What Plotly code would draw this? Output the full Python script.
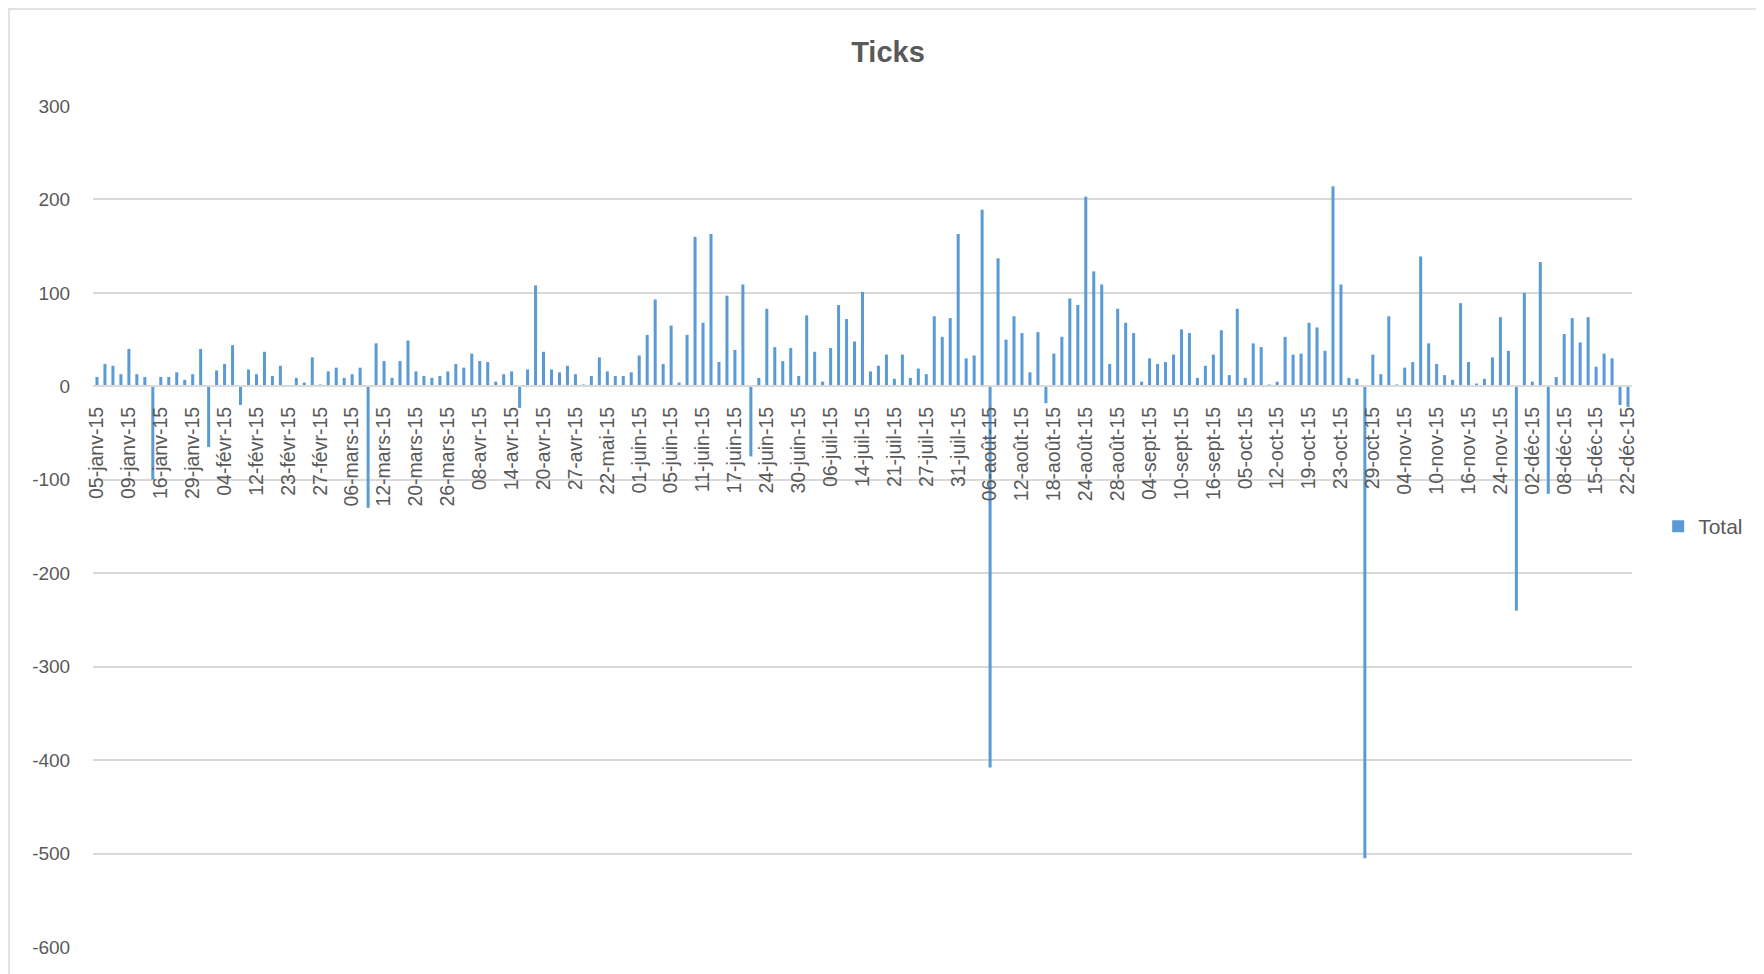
import plotly.graph_objects as go

# Tick labels shown on the category axis (every 4th category)
tick_labels = [
    "05-janv-15", "09-janv-15", "16-janv-15", "29-janv-15", "04-févr-15", "12-févr-15",
    "23-févr-15", "27-févr-15", "06-mars-15", "12-mars-15", "20-mars-15", "26-mars-15",
    "08-avr-15", "14-avr-15", "20-avr-15", "27-avr-15", "22-mai-15", "01-juin-15",
    "05-juin-15", "11-juin-15", "17-juin-15", "24-juin-15", "30-juin-15", "06-juil-15",
    "14-juil-15", "21-juil-15", "27-juil-15", "31-juil-15", "06-août-15", "12-août-15",
    "18-août-15", "24-août-15", "28-août-15", "04-sept-15", "10-sept-15", "16-sept-15",
    "05-oct-15", "12-oct-15", "19-oct-15", "23-oct-15", "29-oct-15", "04-nov-15",
    "10-nov-15", "16-nov-15", "24-nov-15", "02-déc-15", "08-déc-15", "15-déc-15",
    "22-déc-15",
]

# Series "Total" (one value per category, in order)
total = [
    10, 24, 22, 13, 40, 13, 10, -100, 10, 10, 15, 7, 13, 40, -65, 17, 24, 44, -20, 18,
    13, 37, 11, 22, 1, 9, 4, 31, 2, 16, 20, 9, 13, 20, -130, 46, 27, 9, 27, 49, 16, 11,
    9, 11, 16, 24, 20, 35, 27, 26, 5, 13, 16, -23, 18, 108, 37, 18, 15, 22, 13, 2, 11,
    31, 16, 11, 11, 15, 33, 55, 93, 24, 65, 4, 55, 160, 68, 163, 26, 97, 39, 109, -75, 9, 83,
    42, 27, 41, 11, 76, 37, 5, 41, 87, 72, 48, 101, 16, 22, 34, 8, 34, 9, 19, 13, 75,
    53, 73, 163, 30, 33, 189, -408, 137, 50, 75, 57, 15, 58, -18, 35, 53, 94, 87, 203, 123, 109,
    24, 83, 68, 57, 5, 30, 24, 26, 34, 61, 57, 9, 22, 34, 60, 12, 83, 9, 46, 42, 2, 5,
    53, 34, 35, 68, 63, 38, 214, 109, 9, 8, -505, 34, 13, 75, 2, 20, 26, 139, 46, 24, 12, 7,
    89, 26, 3, 8, 31, 74, 38, -240, 100, 5, 133, -115, 10, 56, 73, 47, 74, 21, 35, 30, -20, -22,
]

# Value-axis ticks
y_ticks = [300, 200, 100, 0, -100, -200, -300, -400, -500, -600]

categories = list(range(len(total)))
tick_step = 4

Y_MIN, Y_MAX = min(y_ticks), max(y_ticks)
GRAY_TXT = "#595959"
GRID = "#d9d9d9"
FONT = "Liberation Sans"

# page body has an 8px margin -> compensate
W, H = 1756, 966
ML, MR, MT, MB = 85, 132, 98, 27
PW, PH = W - ML - MR, H - MT - MB

fig = go.Figure()
fig.add_trace(go.Bar(
    x=categories, y=total, name="Total",
    marker=dict(color="#5b9bd5", line=dict(width=0)),
))

zero_pos = (0 - Y_MIN) / (Y_MAX - Y_MIN)

fig.update_layout(
    width=W, height=H,
    paper_bgcolor="white", plot_bgcolor="white",
    margin=dict(l=ML, r=MR, t=MT, b=MB),
    bargap=0.62,
    font=dict(family=FONT, color=GRAY_TXT),
    title=dict(text="<b>Ticks</b>", x=880 / W, xref="container", xanchor="center",
               y=1 - 44 / H, yref="container", yanchor="middle",
               font=dict(family=FONT, size=29, color=GRAY_TXT)),
    showlegend=True,
    legend=dict(x=1.017, y=0.5, xanchor="left", yanchor="middle",
                font=dict(family=FONT, size=21, color=GRAY_TXT),
                itemwidth=30, bgcolor="rgba(0,0,0,0)"),
    xaxis=dict(
        range=[-0.5, len(total) - 0.5],
        tickmode="array",
        tickvals=categories[::tick_step],
        ticktext=tick_labels,
        tickangle=-90,
        tickfont=dict(family=FONT, size=19.5, color=GRAY_TXT),
        showgrid=False, zeroline=False,
        showline=True, linecolor=GRID, linewidth=1.5,
        ticks="outside", ticklen=12, tickcolor="rgba(0,0,0,0)",
        anchor="free", position=zero_pos,
    ),
    yaxis=dict(
        range=[Y_MIN, Y_MAX],
        tickmode="array",
        tickvals=y_ticks,
        ticktext=[str(v) for v in y_ticks],
        showgrid=True, gridcolor=GRID, gridwidth=1.5,
        zeroline=False, showline=False,
        ticks="outside", ticklen=18, tickcolor="rgba(0,0,0,0)",
        tickfont=dict(family=FONT, size=19, color=GRAY_TXT),
    ),
)

# chart-area border (figure pixels -> paper fractions)
bx0, bx1, by_top = 1, W - 2, 1
fig.add_shape(type="rect", xref="paper", yref="paper",
              x0=(bx0 - ML) / PW, x1=(bx1 - ML) / PW,
              y0=-0.2, y1=(MT + PH - by_top) / PH,
              line=dict(color=GRID, width=1.5), fillcolor="rgba(0,0,0,0)", layer="below")

fig.write_html("out.html")
